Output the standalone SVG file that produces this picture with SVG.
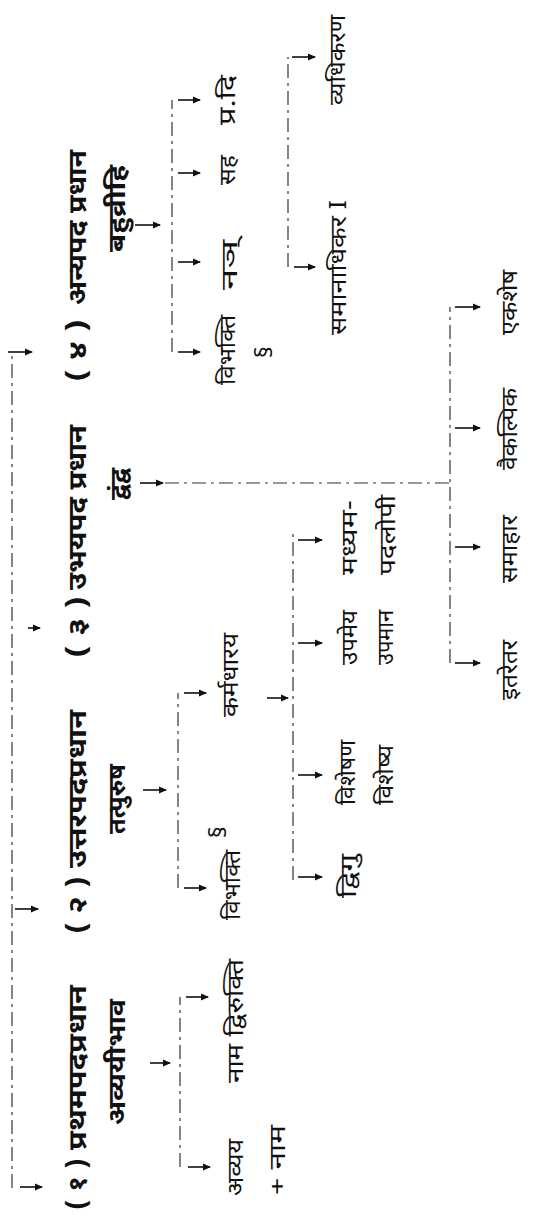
<svg xmlns="http://www.w3.org/2000/svg" width="547" height="1224" viewBox="0 0 547 1224">
<defs>
<style>
.t{font-family:"Noto Sans Devanagari","Lohit Devanagari","Noto Sans",sans-serif;fill:#111;}
.h{font-size:25px;font-weight:bold;}
.s{font-size:24px;font-weight:bold;}
.c{font-size:23px;}
.ln{stroke:#333;stroke-width:1.2;fill:none;stroke-dasharray:14 5 3 5;}
.ar{stroke:#111;stroke-width:1.6;fill:none;marker-end:url(#ah);}
</style>
<marker id="ah" markerWidth="8" markerHeight="8" refX="7" refY="4" orient="auto" markerUnits="userSpaceOnUse">
<path d="M0,0.5 L8,4 L0,7.5 Z" fill="#111"/>
</marker>
</defs>
<rect width="547" height="1224" fill="#fff"/>
<g transform="translate(0,1224) rotate(-90)">
<g id="connectors">
<path class="ln" d="M36,12 H872"/>
<path class="ar" d="M37,20 V42"/>
<path class="ar" d="M315,15 V38"/>
<path class="ar" d="M596,28 V40"/>
<path class="ar" d="M872,8 V32"/>
<path class="ar" d="M161,150 V170"/>
<path class="ar" d="M434,143 V166"/>
<path class="ar" d="M741,140 V163"/>
<path class="ar" d="M999,135 V160"/>
<path class="ln" d="M57,180 H227"/>
<path class="ar" d="M57,188 V210"/>
<path class="ar" d="M227,186 V208"/>
<path class="ln" d="M336,178 H531"/>
<path class="ar" d="M336,184 V206"/>
<path class="ar" d="M531,184 V206"/>
<path class="ar" d="M526,267 V288"/>
<path class="ln" d="M344,293 H691"/>
<path class="ar" d="M347,298 V322"/>
<path class="ar" d="M449,298 V322"/>
<path class="ar" d="M581,298 V322"/>
<path class="ar" d="M684,298 V322"/>
<path class="ln" d="M741,165 V450"/>
<path class="ln" d="M561,450 H917"/>
<path class="ar" d="M561,455 V480"/>
<path class="ar" d="M677,455 V480"/>
<path class="ar" d="M796,455 V480"/>
<path class="ar" d="M917,455 V480"/>
<path class="ln" d="M872,172 H1124"/>
<path class="ar" d="M872,178 V200"/>
<path class="ar" d="M962,178 V200"/>
<path class="ar" d="M1051,178 V200"/>
<path class="ar" d="M1124,178 V200"/>
<path class="ln" d="M957,288 H1167"/>
<path class="ar" d="M957,294 V315"/>
<path class="ar" d="M1167,292 V315"/>
</g>
<g id="n1">
<text class="t h" x="14" y="86" textLength="52" lengthAdjust="spacingAndGlyphs">( १ )</text>
<text class="t h" x="74" y="86" textLength="165" lengthAdjust="spacingAndGlyphs">प्रथमपदप्रधान</text>
<text class="t s" x="99" y="125" textLength="126" lengthAdjust="spacingAndGlyphs">अव्ययीभाव</text>
</g>
<g id="n1a"><text class="t c" x="28" y="243" textLength="57" lengthAdjust="spacingAndGlyphs">अव्यय</text>
<text class="t c" x="29" y="285" textLength="70" lengthAdjust="spacingAndGlyphs">+ नाम</text></g>
<g id="n1b"><text class="t c" x="141" y="243" textLength="124" lengthAdjust="spacingAndGlyphs">नाम द्विरुक्ति</text></g>
<g id="n2">
<text class="t h" x="290" y="86" textLength="58" lengthAdjust="spacingAndGlyphs">( २ )</text>
<text class="t h" x="356" y="86" textLength="158" lengthAdjust="spacingAndGlyphs">उत्तरपदप्रधान</text>
<text class="t s" x="390" y="125" textLength="70" lengthAdjust="spacingAndGlyphs">तत्पुरुष</text>
</g>
<g id="n2a"><text class="t c" x="304" y="240" textLength="70" lengthAdjust="spacingAndGlyphs">विभक्ति</text>
<text class="t c" x="386" y="226" font-size="16">§</text></g>
<g id="n2b"><text class="t c" x="507" y="238" textLength="84" lengthAdjust="spacingAndGlyphs">कर्मधारय</text></g>
<g id="n2b1"><text class="t c" x="326" y="356" textLength="44" lengthAdjust="spacingAndGlyphs">द्विगु</text></g>
<g id="n2b2"><text class="t c" x="419" y="355" textLength="65" lengthAdjust="spacingAndGlyphs">विशेषण</text>
<text class="t c" x="419" y="393" textLength="60" lengthAdjust="spacingAndGlyphs">विशेष्य</text></g>
<g id="n2b3"><text class="t c" x="559" y="357" textLength="55" lengthAdjust="spacingAndGlyphs">उपमेय</text>
<text class="t c" x="559" y="393" textLength="55" lengthAdjust="spacingAndGlyphs">उपमान</text></g>
<g id="n2b4"><text class="t c" x="649" y="357" textLength="75" lengthAdjust="spacingAndGlyphs">मध्यम-</text>
<text class="t c" x="649" y="395" textLength="80" lengthAdjust="spacingAndGlyphs">पदलोपी</text></g>
<g id="n3">
<text class="t h" x="566" y="86" textLength="62" lengthAdjust="spacingAndGlyphs">( ३ )</text>
<text class="t h" x="634" y="86" textLength="165" lengthAdjust="spacingAndGlyphs">उभयपद प्रधान</text>
<text class="t s" x="724" y="127" textLength="32" lengthAdjust="spacingAndGlyphs">द्वंद्व</text>
</g>
<g id="n3a"><text class="t c" x="524" y="517" textLength="60" lengthAdjust="spacingAndGlyphs">इतरेतर</text></g>
<g id="n3b"><text class="t c" x="641" y="517" textLength="68" lengthAdjust="spacingAndGlyphs">समाहार</text></g>
<g id="n3c"><text class="t c" x="754" y="517" textLength="82" lengthAdjust="spacingAndGlyphs">वैकल्पिक</text></g>
<g id="n3d"><text class="t c" x="889" y="517" textLength="65" lengthAdjust="spacingAndGlyphs">एकशेष</text></g>
<g id="n4">
<text class="t h" x="842" y="86" textLength="63" lengthAdjust="spacingAndGlyphs">( ४ )</text>
<text class="t h" x="919" y="86" textLength="155" lengthAdjust="spacingAndGlyphs">अन्यपद प्रधान</text>
<text class="t s" x="972" y="125" textLength="87" lengthAdjust="spacingAndGlyphs">बहुव्रीहि</text>
</g>
<g id="n4a"><text class="t c" x="839" y="235" textLength="70" lengthAdjust="spacingAndGlyphs">विभक्ति</text>
<text class="t c" x="866" y="272" font-size="16">§</text></g>
<g id="n4b"><text class="t c" x="934" y="237" textLength="50" lengthAdjust="spacingAndGlyphs">नञ्</text></g>
<g id="n4c"><text class="t c" x="1039" y="235" textLength="30" lengthAdjust="spacingAndGlyphs">सह</text></g>
<g id="n4d"><text class="t c" x="1099" y="235" textLength="50" lengthAdjust="spacingAndGlyphs">प्र.दि</text></g>
<g id="n4e"><text class="t c" x="889" y="346" textLength="135" lengthAdjust="spacingAndGlyphs">समानाधिकर I</text></g>
<g id="n4f"><text class="t c" x="1119" y="345" textLength="90" lengthAdjust="spacingAndGlyphs">व्यधिकरण</text></g>
</g>
</svg>
